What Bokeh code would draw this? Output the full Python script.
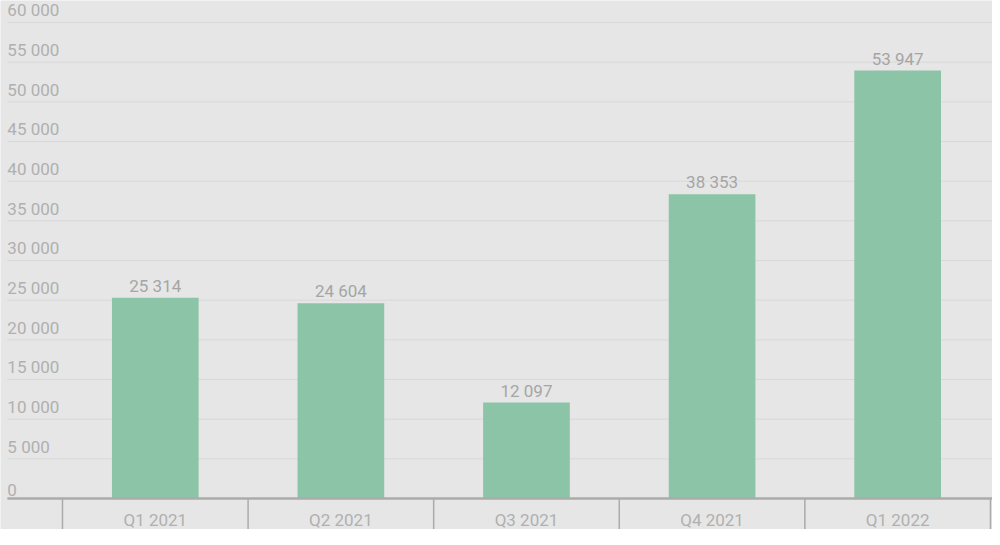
from bokeh.plotting import figure
from bokeh.models import Range1d, ColumnDataSource
from bokeh.core.properties import value
from bokeh.embed import file_html
from bokeh.resources import INLINE

# ---- data ----
categories = ["Q1 2021", "Q2 2021", "Q3 2021", "Q4 2021", "Q1 2022"]
values = [25314, 24604, 12097, 38353, 53947]
value_labels = ["25 314", "24 604", "12 097", "38 353", "53 947"]
y_ticks = [0, 5000, 10000, 15000, 20000, 25000, 30000, 35000, 40000, 45000, 50000, 55000, 60000]
y_tick_labels = ["0", "5 000", "10 000", "15 000", "20 000", "25 000", "30 000",
                 "35 000", "40 000", "45 000", "50 000", "55 000", "60 000"]

BG = "#e6e6e6"
BAR = "#8cc4a7"
GRID = "#d8d8d8"
AXIS = "#ababab"
TEXT = "#b0b0b0"
VTEXT = "#a5a5a5"
FONT = value("Roboto")

n = len(categories)
x_start, x_end = -0.334, 5.011
y_start, y_end = -3908, 62773
x_left = x_start + 0.037  # left edge of gridlines / baseline

p = figure(width=992, height=529, output_backend="svg", toolbar_location=None,
           x_range=Range1d(x_start, x_end), y_range=Range1d(y_start, y_end),
           min_border=0, min_border_left=0, min_border_right=0,
           min_border_top=0, min_border_bottom=0)
p.axis.visible = False
p.grid.visible = False
p.outline_line_color = None
p.background_fill_color = BG
p.border_fill_color = BG

centers = [i + 0.5 for i in range(n)]

# gridlines
grid_src = ColumnDataSource(dict(y=y_ticks[1:], x0=[x_left] * (len(y_ticks) - 1),
                                 x1=[x_end] * (len(y_ticks) - 1)))
p.segment(x0="x0", x1="x1", y0="y", y1="y", source=grid_src, line_color=GRID, line_width=1)

# y tick labels (inside plot, left)
lab_src = ColumnDataSource(dict(y=y_ticks, t=y_tick_labels, x=[x_left] * len(y_ticks)))
p.text(x="x", y="y", text="t", source=lab_src, text_font=FONT, text_font_size="17px",
       text_color=TEXT, text_align="left", text_baseline="bottom", x_offset=0, y_offset=-2)

# bars
bar_src = ColumnDataSource(dict(x=centers, top=values, lab=value_labels, cat=categories))
p.vbar(x="x", top="top", bottom=0, width=0.467, source=bar_src,
       fill_color=BAR, line_color=None)

# value labels
p.text(x="x", y="top", text="lab", source=bar_src, text_font=FONT, text_font_size="17px",
       text_color=VTEXT, text_align="center", text_baseline="bottom", y_offset=-2)

# baseline
p.segment(x0=[x_left], x1=[5.011], y0=[0], y1=[0], line_color=AXIS, line_width=2.5)

# category separators
bounds = list(range(n + 1))
p.segment(x0=bounds, x1=bounds, y0=[0] * len(bounds), y1=[y_start] * len(bounds),
          line_color=AXIS, line_width=1.5)

# category labels
p.text(x="x", y=-2773, text="cat", source=bar_src, text_font=FONT, text_font_size="17px",
       text_color=TEXT, text_align="center", text_baseline="alphabetic")

open("out.html", "w").write(file_html(p, INLINE))
